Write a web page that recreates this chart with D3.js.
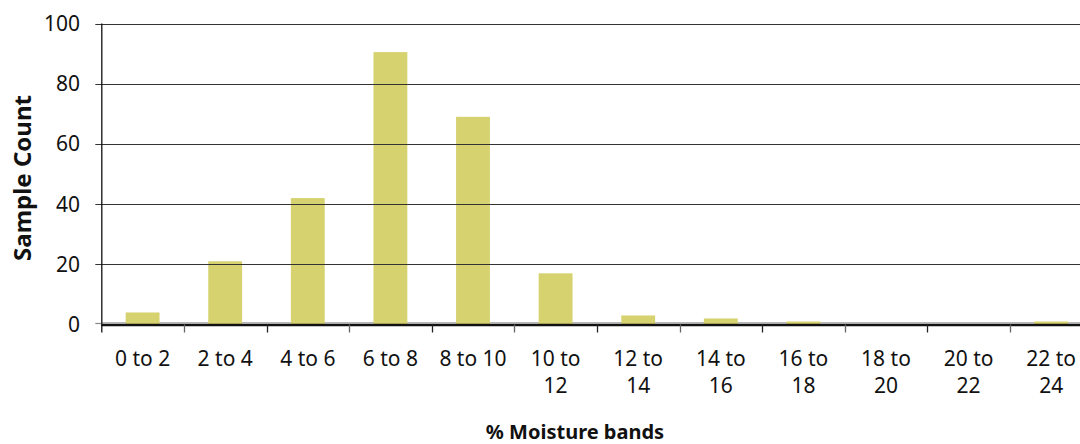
<!DOCTYPE html>
<html>
<head>
<meta charset="utf-8">
<script src="https://cdn.jsdelivr.net/npm/d3@7"></script>
<style>
  html, body { margin: 0; padding: 0; background: #fff; }
  svg { display: block; }
  text { font-family: "Noto Sans", "Open Sans", sans-serif; fill: #111; }
</style>
</head>
<body>
<svg id="chart" width="1080" height="444"></svg>
<script>
// Moisture band categories and sample counts per band
const bands = ["0 to 2", "2 to 4", "4 to 6", "6 to 8", "8 to 10", "10 to 12",
               "12 to 14", "14 to 16", "16 to 18", "18 to 20", "20 to 22", "22 to 24"];
const counts = [4, 21, 42, 90.5, 69, 17, 3, 2, 1, 0, 0, 1];
const yTicks = [0, 20, 40, 60, 80, 100];

const svg = d3.select("#chart");
const plotLeft = 101.3, plotRight = 1092.5, plotTop = 23.5, plotBottom = 324.5;

const x = d3.scaleBand().domain(bands).range([plotLeft, plotRight]).paddingInner(0.59).paddingOuter(0.295);
const y = d3.scaleLinear().domain([0, 100]).range([plotBottom, plotTop]);
const step = x.step();

// Thin gray zero gridline, sitting behind the bars
svg.append("line")
  .attr("x1", plotLeft).attr("x2", 1080)
  .attr("y1", 322.8).attr("y2", 322.8)
  .attr("stroke", "#999").attr("stroke-width", 1);

// Bars
svg.append("g").selectAll("rect")
  .data(bands.map((b, i) => ({ band: b, value: counts[i] })))
  .join("rect")
  .attr("x", d => x(d.band))
  .attr("width", x.bandwidth())
  .attr("y", d => y(d.value))
  .attr("height", d => y(0) - y(d.value) + 0.5)
  .attr("fill", "#d6d26f");

// Horizontal gridlines drawn over the bars
svg.append("g").selectAll("line")
  .data(yTicks.filter(t => t > 0))
  .join("line")
  .attr("x1", plotLeft - 6).attr("x2", 1080)
  .attr("y1", d => Math.round(y(d)) + 0.5).attr("y2", d => Math.round(y(d)) + 0.5)
  .attr("stroke", "#333").attr("stroke-width", 1.2);

// Y axis labels
svg.append("g").selectAll("text")
  .data(yTicks)
  .join("text")
  .attr("x", 80)
  .attr("y", d => y(d))
  .attr("dy", "0.36em")
  .attr("text-anchor", "end")
  .attr("font-size", 21)
  .text(d => d);

// Y axis line and zero tick
svg.append("line")
  .attr("x1", plotLeft + 0.5).attr("x2", plotLeft + 0.5)
  .attr("y1", plotTop).attr("y2", plotBottom + 8)
  .attr("stroke", "#111").attr("stroke-width", 1.3);
svg.append("line")
  .attr("x1", plotLeft - 6).attr("x2", plotLeft)
  .attr("y1", plotBottom - 1).attr("y2", plotBottom - 1)
  .attr("stroke", "#888").attr("stroke-width", 1.2);

// Heavy black category axis along the baseline
svg.append("line")
  .attr("x1", plotLeft).attr("x2", 1080)
  .attr("y1", 325).attr("y2", 325)
  .attr("stroke", "#111").attr("stroke-width", 2.6);

// Category separator ticks
svg.append("g").selectAll("line")
  .data(d3.range(1, bands.length + 1))
  .join("line")
  .attr("x1", i => Math.round(plotLeft + i * step) + 0.5)
  .attr("x2", i => Math.round(plotLeft + i * step) + 0.5)
  .attr("y1", plotBottom).attr("y2", plotBottom + 8)
  .attr("stroke", i => i % 2 ? "#666" : "#222").attr("stroke-width", 1.3);

// Category labels, wrapped onto two lines when too wide for the band
const labels = svg.append("g").selectAll("text")
  .data(bands)
  .join("text")
  .attr("x", d => x(d) + x.bandwidth() / 2)
  .attr("y", 366)
  .attr("text-anchor", "middle")
  .attr("font-size", 21)
  .text(d => d);

labels.each(function(d) {
  const t = d3.select(this);
  if (this.getComputedTextLength() > step * 0.9) {
    const words = d.split(" ");
    const last = words.pop();
    t.text(null);
    t.append("tspan").attr("x", t.attr("x")).text(words.join(" "));
    t.append("tspan").attr("x", t.attr("x")).attr("dy", 27).text(last);
  }
});

// Axis titles
svg.append("text")
  .attr("transform", `translate(31,${(plotTop + plotBottom) / 2 + 4}) rotate(-90)`)
  .attr("text-anchor", "middle")
  .attr("font-size", 24)
  .attr("font-weight", "bold")
  .text("Sample Count");

svg.append("text")
  .attr("x", 575)
  .attr("y", 439)
  .attr("text-anchor", "middle")
  .attr("font-size", 20)
  .attr("font-weight", "bold")
  .text("% Moisture bands");
</script>
</body>
</html>
